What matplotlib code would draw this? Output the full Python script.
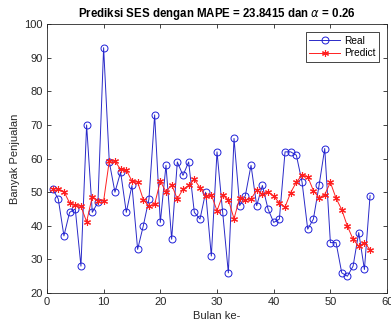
import matplotlib
matplotlib.use('Agg')
import matplotlib.pyplot as plt

# Data
bulan = list(range(1, 58))
real = [51, 48, 37, 44, 45, 28, 70, 44, 47, 93,
        59, 50, 56, 44, 52, 33, 40, 48, 73, 41,
        58, 36, 59, 55, 59, 44, 42, 50, 31, 62,
        44, 26, 66, 46, 49, 58, 46, 52, 45, 41,
        42, 62, 62, 61, 53, 39, 42, 52, 63, 35,
        35, 26, 25, 28, 38, 27, 49]
predict = [51.0, 51.0, 50.2, 46.8, 46.1, 45.8, 41.2, 48.7, 47.5, 47.4,
           59.3, 59.2, 56.8, 56.6, 53.3, 53.0, 47.8, 45.8, 46.4, 53.3,
           50.1, 52.2, 48.0, 50.9, 52.0, 53.8, 51.3, 48.9, 49.2, 44.5,
           49.1, 47.8, 42.1, 48.3, 47.7, 48.0, 50.6, 49.4, 50.1, 48.8,
           46.8, 45.6, 49.9, 53.0, 55.1, 54.6, 50.5, 48.3, 49.3, 52.9,
           48.2, 44.8, 39.9, 36.0, 33.9, 35.0, 32.9]

plt.rcParams['font.family'] = ['Liberation Sans', 'DejaVu Sans']
plt.rcParams['mathtext.fontset'] = 'dejavusans'

fig = plt.figure(figsize=(3.91, 3.22), dpi=100)
ax = fig.add_axes([0.120, 0.090, 0.870, 0.835])

ax.plot(bulan, real, color='#2a2ac8', linewidth=0.7, marker='o',
        markersize=5, markerfacecolor='none', markeredgecolor='#1f1fd8',
        markeredgewidth=0.7, label='Real')
# asterisk marker like matlab '*'
ax.plot(bulan, predict, color='#ff2020', linewidth=0.7, marker=(6, 2, 0),
        markersize=5, markeredgewidth=0.8, label='Predict')

ax.set_xlim(0, 60)
ax.set_ylim(20, 100)
ax.set_xticks(range(0, 61, 10))
ax.set_yticks(range(20, 101, 10))

edge = '#262626'
for s in ax.spines.values():
    s.set_color(edge)
    s.set_linewidth(0.6)
ax.tick_params(direction='in', top=True, right=True, length=3, width=0.6,
               colors=edge, labelsize=8, pad=3)

ax.set_title(r'Prediksi SES dengan MAPE = 23.8415 dan $\alpha$ = 0.26',
             fontsize=8.3, fontweight='bold', pad=5)
ax.set_xlabel('Bulan ke-', fontsize=8, color=edge, labelpad=3)
ax.set_ylabel('Banyak Penjualan', fontsize=8, color=edge, labelpad=3)

leg = ax.legend(loc='upper right', fontsize=7.3, fancybox=False,
                framealpha=1, edgecolor=edge, handlelength=3.0,
                borderpad=0.35, labelspacing=0.25, handletextpad=0.4,
                borderaxespad=0.8)
leg.get_frame().set_linewidth(0.6)

fig.savefig('out.png', dpi=100)
